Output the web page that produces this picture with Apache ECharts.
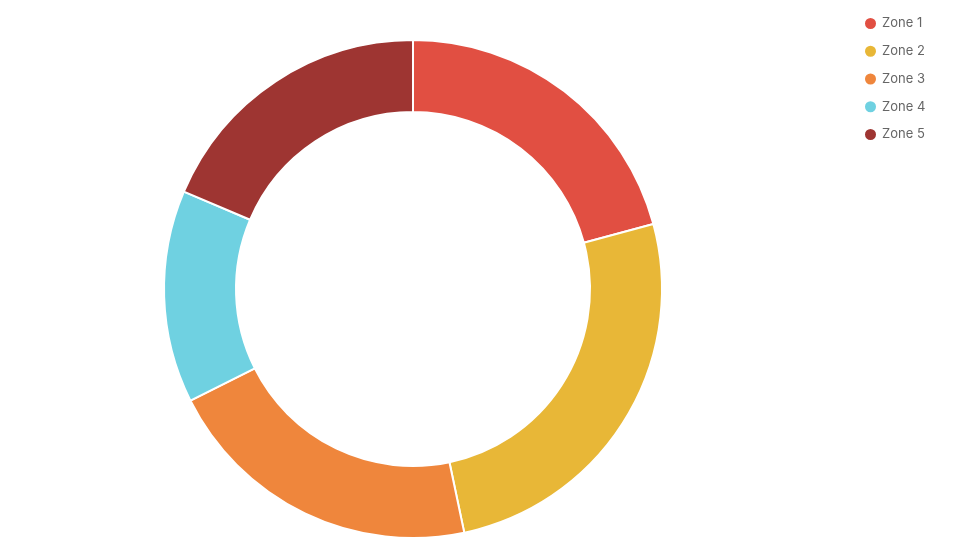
<!DOCTYPE html>
<html>
<head>
<meta charset="utf-8">
<script src="https://cdn.jsdelivr.net/npm/echarts@6/dist/echarts.min.js"></script>
<style>html,body{margin:0;padding:0;background:#fff;}#c{width:960px;height:540px;}</style>
</head>
<body>
<div id="c"></div>
<script>
const categories = ['Zone 1', 'Zone 2', 'Zone 3', 'Zone 4', 'Zone 5'];
const values = [20.8, 25.9, 20.9, 13.8, 18.6];
const colors = ['#e14f42', '#e8b737', '#ef863c', '#6fd1e1', '#9e3532'];

const chart = echarts.init(document.getElementById('c'));
chart.setOption({
  animation: false,
  color: colors,
  legend: {
    orient: 'vertical',
    left: 858,
    top: 11,
    icon: 'circle',
    itemWidth: 13,
    itemHeight: 13,
    itemGap: 12.75,
    textStyle: { color: '#666', fontSize: 13, fontFamily: 'Inter, sans-serif' },
    data: categories
  },
  series: [{
    type: 'pie',
    center: [413, 289],
    radius: [177, 249],
    startAngle: 90,
    clockwise: true,
    label: { show: false },
    labelLine: { show: false },
    itemStyle: { borderColor: '#fff', borderWidth: 2 },
    data: categories.map((c, i) => ({ name: c, value: values[i] }))
  }]
});
</script>
</body>
</html>
